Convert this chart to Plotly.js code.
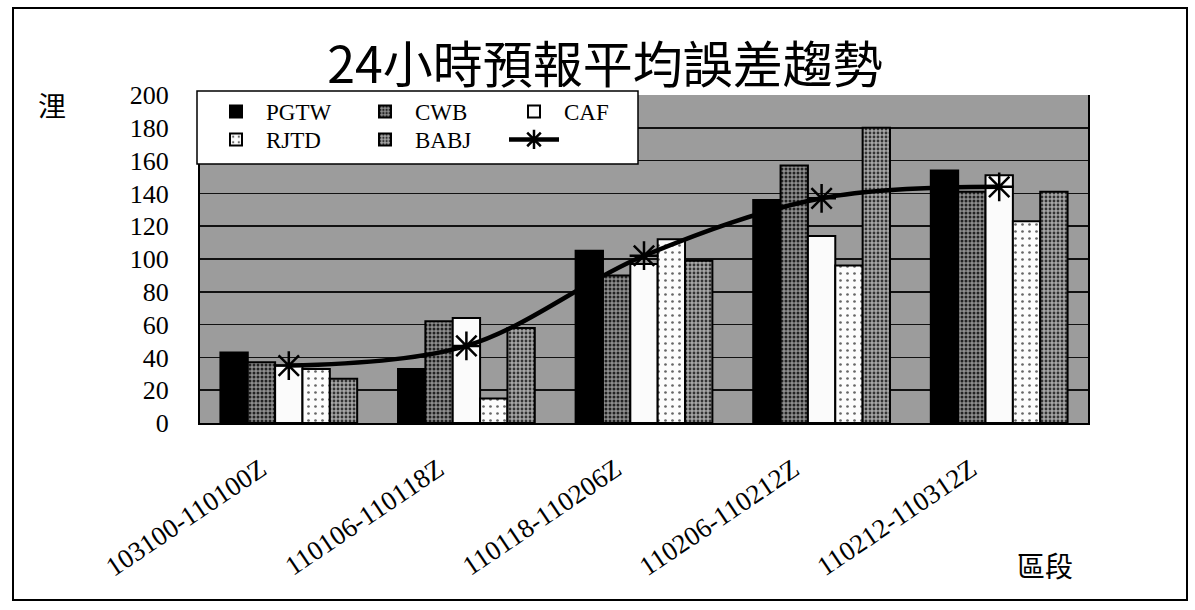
<!DOCTYPE html>
<html>
<head>
<meta charset="utf-8">
<script src="https://cdn.plot.ly/plotly-3.0.1.min.js"></script>
<style>html,body{margin:0;padding:0;background:#fff;}#chart{width:1195px;height:610px;}</style>
</head>
<body>
<div id="chart"></div>
<script>
const categories = ["103100-110100Z","110106-110118Z","110118-110206Z","110206-110212Z","110212-110312Z"];
const PGTW = [43, 33, 105, 136, 154];
const CWB  = [37, 62, 90, 157, 141];
const CAF  = [35, 64, 97, 114, 151];
const RJTD = [33, 15, 112, 96, 123];
const BABJ = [27, 58, 99, 180, 141];
const trend = [35, 47, 102, 137, 144];
const yTicks = [0,20,40,60,80,100,120,140,160,180,200];

const serif = "Liberation Serif, Times New Roman, serif";
const cjk = "Noto Sans CJK TC, Noto Sans CJK SC, sans-serif";
const edge = {color:"#000", width:2};

const traces = [
  {type:"bar", name:"PGTW", x:categories, y:PGTW, legend:"legend",
   marker:{color:"#000", line:edge}},
  {type:"bar", name:"CWB", x:categories, y:CWB, legend:"legend",
   marker:{color:"#7a7a7a", line:edge, pattern:{shape:".", fgcolor:"#222", bgcolor:"#8e8e8e", size:4, solidity:0.45}}},
  {type:"bar", name:"CAF", x:categories, y:CAF, legend:"legend",
   marker:{color:"#fbfbfb", line:edge}},
  {type:"bar", name:"RJTD", x:categories, y:RJTD, legend:"legend2",
   marker:{color:"#fff", line:edge, pattern:{shape:".", fgcolor:"#666", bgcolor:"#fcfcfc", size:7, solidity:0.12}}},
  {type:"bar", name:"BABJ", x:categories, y:BABJ, legend:"legend2",
   marker:{color:"#999", line:edge, pattern:{shape:".", fgcolor:"#333", bgcolor:"#a6a6a6", size:4, solidity:0.4}}},
  {type:"scatter", mode:"lines+markers", name:" ", x:categories, y:trend, legend:"legend2",
   line:{color:"#000", width:4.5, shape:"spline", smoothing:1},
   marker:{symbol:"asterisk-open", size:24, color:"#000", line:{color:"#000", width:2.5}}}
];

const L = 200, R = 1088, T = 95, B = 423;
const W = R - L, H = B - T;
const px = v => (v - L) / W;
const py = v => (B - v) / H;

const layout = {
  width:1195, height:610,
  margin:{l:L, r:1195-R, t:T, b:610-B},
  paper_bgcolor:"#fff",
  plot_bgcolor:"#9c9c9c",
  barmode:"group", bargap:0.23, bargroupgap:0,
  title:{text:"24小時預報平均誤差趨勢", font:{family:cjk, size:50, color:"#000"},
         x:605/1195, xref:"container", xanchor:"center", y:1-65/610, yref:"container", yanchor:"middle"},
  xaxis:{type:"category", tickangle:-34, tickfont:{family:serif, size:27, color:"#000"},
         ticklabelstandoff:18, ticklabelshift:-28,
         showline:true, linecolor:"#000", linewidth:2, ticks:"", showgrid:false},
  yaxis:{range:[0,200], tickvals:yTicks, ticktext:yTicks.map(String),
         tickfont:{family:serif, size:26, color:"#000"}, ticklabelstandoff:24,
         showline:true, linecolor:"#000", linewidth:2, mirror:true,
         showgrid:true, gridcolor:"#111", gridwidth:1.5, zeroline:false, ticks:""},
  legend:{orientation:"h", x:px(206), y:py(90), xanchor:"left", yanchor:"top",
          bgcolor:"rgba(0,0,0,0)", font:{family:serif, size:23, color:"#000"},
          entrywidth:84, itemwidth:50, traceorder:"normal", tracegroupgap:0},
  legend2:{orientation:"h", x:px(206), y:py(118), xanchor:"left", yanchor:"top",
          bgcolor:"rgba(0,0,0,0)", font:{family:serif, size:23, color:"#000"},
          entrywidth:84, itemwidth:50, traceorder:"normal", tracegroupgap:0},
  shapes:[
    {type:"rect", xref:"paper", yref:"paper", x0:px(197), x1:px(638), y0:py(164), y1:py(91),
     fillcolor:"#fff", line:{color:"#000", width:1.5}, layer:"above"},
    {type:"rect", xref:"paper", yref:"paper", x0:px(13), x1:px(1187), y0:py(600), y1:py(8),
     fillcolor:"rgba(0,0,0,0)", line:{color:"#000", width:2}, layer:"above"}
  ],
  annotations:[
    {text:"浬", xref:"paper", yref:"paper", x:px(52), y:py(105), xanchor:"center", yanchor:"middle",
     showarrow:false, font:{family:cjk, size:28, color:"#000"}},
    {text:"區段", xref:"paper", yref:"paper", x:px(1045), y:py(565), xanchor:"center", yanchor:"middle",
     showarrow:false, font:{family:cjk, size:28, color:"#000"}}
  ],
  showlegend:true
};

Plotly.newPlot("chart", traces, layout, {displayModeBar:false, staticPlot:true});
</script>
</body>
</html>
